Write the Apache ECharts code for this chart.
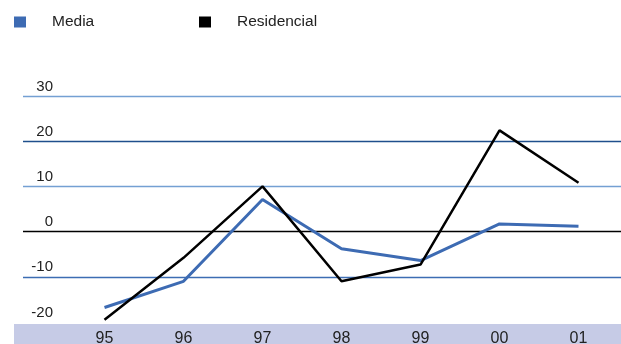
<!DOCTYPE html>
<html>
<head>
<meta charset="utf-8">
<script src="https://cdn.jsdelivr.net/npm/echarts@6/dist/echarts.min.js"></script>
<style>
  html, body { margin: 0; padding: 0; background: #ffffff; }
  #chart { width: 621px; height: 344px; }
</style>
</head>
<body>
<div id="chart"></div>
<script>
// Year labels (two-digit)
const years = ['95', '96', '97', '98', '99', '00', '01'];
// Series values
const media = [-16.8, -11.0, 7.1, -3.8, -6.4, 1.7, 1.2];
const residencial = [-19.5, -5.8, 10.0, -11.0, -7.3, 22.4, 10.8];
// Value scale
const yMin = -20;
const yMax = 30;
const yStep = 10;

const FONT = 'Liberation Sans, Arial, sans-serif';
const chart = echarts.init(document.getElementById('chart'), null, { renderer: 'canvas' });

const legendText = { fontFamily: FONT, fontSize: 15.5, color: '#222', padding: [0, 0, 0, 21] };

chart.setOption({
  animation: false,
  backgroundColor: '#ffffff',
  textStyle: { fontFamily: FONT },
  legend: [
    {
      left: 14, top: 14, padding: 0, itemWidth: 12, itemHeight: 11, icon: 'rect',
      data: ['Media'], textStyle: legendText
    },
    {
      left: 199, top: 14, padding: 0, itemWidth: 12, itemHeight: 11, icon: 'rect',
      data: ['Residencial'], textStyle: legendText
    }
  ],
  graphic: {
    elements: [
      {
        type: 'rect', z: -10,
        shape: { x: 14, y: 324, width: 607, height: 20 },
        style: { fill: '#c6cbe6' }
      }
    ]
  },
  // grid 0 carries the horizontal rules, grid 1 the year bands and lines
  grid: [
    { left: 23, right: 0, top: 96, bottom: 22, containLabel: false, outerBoundsMode: 'none' },
    { left: 65, right: 3, top: 96, bottom: 22, containLabel: false, outerBoundsMode: 'none' }
  ],
  xAxis: [
    { gridIndex: 0, type: 'value', show: false, min: 0, max: 1 },
    {
      gridIndex: 1, type: 'category', data: years, boundaryGap: true,
      axisLine: { show: false }, axisTick: { show: false },
      axisLabel: { margin: 9, fontFamily: FONT, fontSize: 16, color: '#222' }
    }
  ],
  yAxis: [
    {
      gridIndex: 0, type: 'value', min: yMin, max: yMax, interval: yStep,
      axisLine: { show: false }, axisTick: { show: false },
      axisLabel: {
        inside: true, align: 'right', margin: 30, verticalAlign: 'bottom',
        padding: [0, 0, 2, 0], fontFamily: FONT, fontSize: 15, color: '#222'
      },
      splitLine: {
        show: true,
        lineStyle: {
          width: 1.3,
          color: ['rgba(0,0,0,0)', '#3c6db3', '#000000', '#74a0d3', '#1f4f8c', '#74a0d3']
        }
      }
    },
    { gridIndex: 1, type: 'value', min: yMin, max: yMax, interval: yStep, show: false, splitLine: { show: false } }
  ],
  series: [
    {
      name: 'Media', type: 'line', xAxisIndex: 1, yAxisIndex: 1,
      data: media, symbol: 'none', color: '#3d6bb3',
      lineStyle: { width: 3, color: '#3d6bb3' }, z: 3
    },
    {
      name: 'Residencial', type: 'line', xAxisIndex: 1, yAxisIndex: 1,
      data: residencial, symbol: 'none', color: '#000000',
      lineStyle: { width: 2.5, color: '#000000' }, z: 4
    }
  ]
});
</script>
</body>
</html>
